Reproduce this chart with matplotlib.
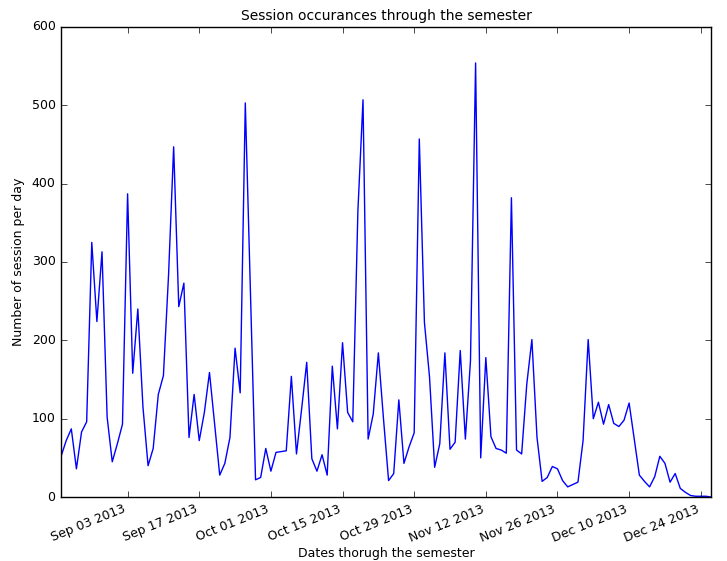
import numpy as np
import pandas as pd
import matplotlib
matplotlib.use('Agg')
import matplotlib.pyplot as plt
import matplotlib.dates as mdates

plt.style.use('classic')

# daily session counts, Aug 21 2013 .. Dec 26 2013
start_date = '2013-08-21'
sessions = [52, 72, 87, 36, 83, 96, 325, 224, 313, 102,
            45, 68, 93, 387, 158, 240, 115, 40, 62, 131,
            155, 283, 447, 243, 273, 76, 131, 72, 108, 159,
            94, 28, 43, 76, 190, 133, 503, 262, 22, 25,
            62, 33, 57, 58, 59, 154, 55, 112, 172, 49,
            33, 54, 28, 167, 87, 197, 108, 96, 365, 507,
            74, 106, 184, 100, 21, 30, 124, 43, 64, 82,
            457, 223, 153, 38, 68, 184, 61, 70, 187, 74,
            174, 554, 50, 178, 77, 62, 60, 56, 382, 60,
            55, 144, 201, 76, 20, 25, 39, 36, 21, 13,
            16, 19, 72, 201, 100, 121, 93, 118, 94, 90,
            98, 120, 74, 28, 20, 13, 26, 52, 43, 19,
            30, 11, 6, 2, 1, 1, 1, 0]
tick_dates = pd.date_range('2013-09-03', periods=9, freq='14D')

dates = pd.date_range(start_date, periods=len(sessions), freq='D')

fig = plt.figure(figsize=(7.27, 5.61), dpi=100, facecolor='white')
ax = fig.add_axes([0.084, 0.114, 0.894, 0.838])
ax.plot(dates, sessions, color='b', linewidth=1.0)

ax.set_xlim(dates[0], dates[-1])
ax.set_ylim(0, 600)
ax.set_xticks(tick_dates)
ax.xaxis.set_major_formatter(mdates.DateFormatter('%b %d %Y'))
ax.tick_params(labelsize=9)
for lbl in ax.get_xticklabels():
    lbl.set_rotation(22)
    lbl.set_ha('right')

ax.set_title('Session occurances through the semester', fontsize=10)
ax.set_xlabel('Dates thorugh the semester', fontsize=9, labelpad=2)
ax.set_ylabel('Number of session per day', fontsize=9)

fig.savefig('out.png', dpi=100, facecolor='white')
